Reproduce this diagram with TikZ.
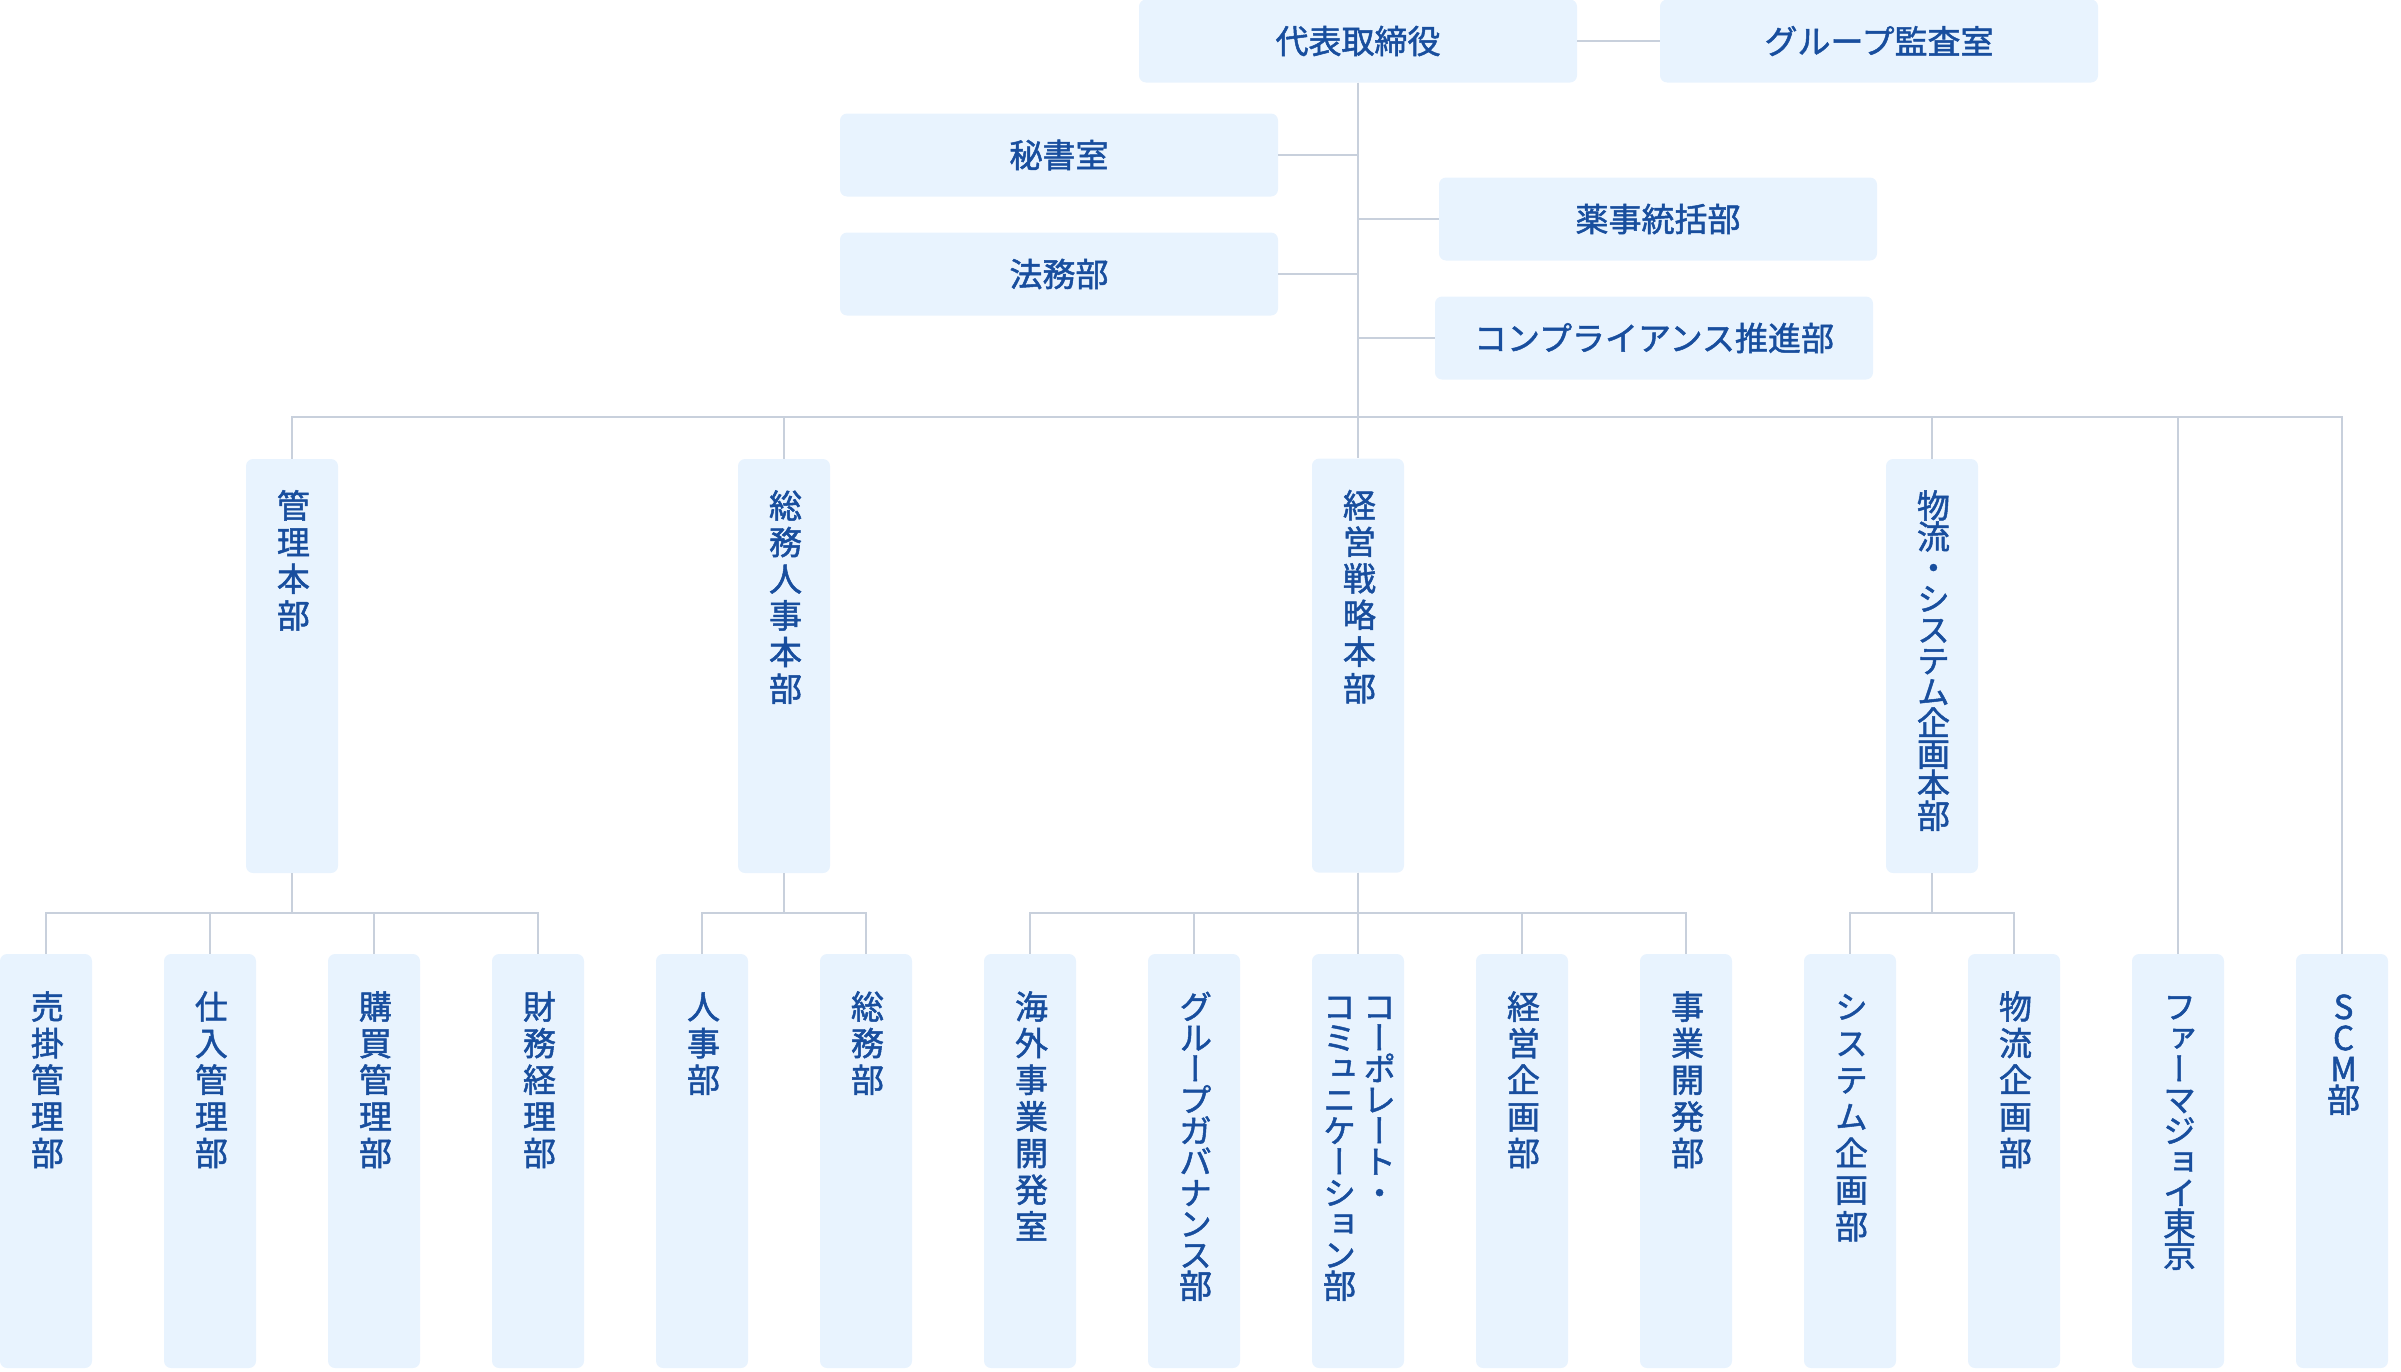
\documentclass[tikz,border=0pt]{standalone}
\usepackage{fontspec}
\usepackage{graphicx}
\usetikzlibrary{
  positioning,
  calc
}
\newfontfamily\cjk[FakeBold=1.5]{Noto Sans CJK JP}
\newfontfamily\tatefont[RawFeature={vertical;+vert},LetterSpace=11,FakeBold=1.5]{Noto Sans CJK JP}
\newfontfamily\tatetight[RawFeature={vertical;+vert},LetterSpace=-6,FakeBold=1.5]{Noto Sans CJK JP}
\definecolor{boxfill}{RGB}{232,243,254}
\definecolor{inkblue}{RGB}{24,78,158}
\definecolor{linegray}{RGB}{200,208,220}
\newcommand{\tate}[1]{\hspace*{14pt}\rotatebox{-90}{\tatefont #1}\hspace*{-14pt}}
\newcommand{\tatet}[1]{\hspace*{14pt}\rotatebox{-90}{\tatetight #1}\hspace*{-14pt}}
\newcommand{\tatepair}[2]{\hspace*{14pt}\rotatebox{-90}{\tatetight\vbox{\baselineskip=40pt\lineskiplimit=-100pt\hbox{#1}\hbox{#2}}}\hspace*{-14pt}}

\begin{document}
\begin{tikzpicture}[x=1pt, y=1pt, node distance=71.6pt,
            unit/.style={rectangle, fill=boxfill, text=inkblue, font=\cjk\fontsize{33pt}{36pt}\selectfont, minimum width=438pt, minimum height=83pt, rounded corners=7pt, inner sep=0pt},
            dept/.style={rectangle, fill=boxfill, text=inkblue, font=\fontsize{33pt}{36pt}\selectfont, minimum width=92pt, minimum height=414pt, rounded corners=7pt, inner xsep=0pt, inner ysep=36pt, text height=0pt, text depth=342pt},
            head/.style={dept, inner ysep=30pt, text depth=354pt},
            link/.style={draw=linegray, line width=2.5pt}]
            \useasboundingbox (0,0) rectangle (2401,-1371);
            % top level
            \node [unit] (ceo) at (1358,-41) {代表取締役};
            \node [unit] (audit) at (1879,-41) {グループ監査室};
            \node [unit] (secretary) at (1059,-155) {秘書室};
            \node [unit] (legal) at (1059,-274) {法務部};
            \node [unit] (pharma) at (1658,-219) {薬事統括部};
            \node [unit] (compliance) at (1654,-338) {コンプライアンス推進部};
            % departments
            \node [dept] (ar) at (46,-1161) {\tate{売掛管理部}};
            \node [dept, right=of ar] (purchase) {\tate{仕入管理部}};
            \node [dept, right=of purchase] (buying) {\tate{購買管理部}};
            \node [dept, right=of buying] (finance) {\tate{財務経理部}};
            \node [dept, right=of finance] (personnel) {\tate{人事部}};
            \node [dept, right=of personnel] (general) {\tate{総務部}};
            \node [dept, right=of general] (overseas) {\tate{海外事業開発室}};
            \node [dept, right=of overseas] (governance) {\tatet{グループガバナンス部}};
            \node [dept, right=of governance] (corpcomm) {\tatepair{コーポレート・}{コミュニケーション部}};
            \node [dept, right=of corpcomm] (planning) {\tate{経営企画部}};
            \node [dept, right=of planning] (bizdev) {\tate{事業開発部}};
            \node [dept, right=of bizdev] (sysplan) {\tate{システム企画部}};
            \node [dept, right=of sysplan] (logplan) {\tate{物流企画部}};
            \node [dept, right=of logplan] (pharmajoy) {\tatet{ファーマジョイ東京}};
            \node [dept, right=of pharmajoy] (scm) {\tatet{SCM部}};
            % divisions
            \node [head] (mgmt) at ($(purchase)!0.5!(buying)+(0,495)$) {\tate{管理本部}};
            \node [head] (hrga) at ($(personnel)!0.5!(general)+(0,495)$) {\tate{総務人事本部}};
            \node [head, above=81pt of corpcomm] (strategy) {\tate{経営戦略本部}};
            \node [head] (logsys) at ($(sysplan)!0.5!(logplan)+(0,495)$) {\tatet{物流・システム企画本部}};

            \coordinate (bus) at (1358,-417);
            \coordinate (sub) at (0,-913);
            \path [link] (ceo) -- (audit);
            \path [link] (ceo) -- (bus);
            \path [link] (secretary.east) -- (secretary.east -| ceo.south);
            \path [link] (legal.east) -- (legal.east -| ceo.south);
            \path [link] (pharma.west) -- (pharma.west -| ceo.south);
            \path [link] (compliance.west) -- (compliance.west -| ceo.south);
            \foreach \c in {mgmt, hrga, strategy, logsys, pharmajoy, scm}
              \path [link] (bus) -| (\c.north);
            \foreach \p/\c in {mgmt/ar, mgmt/purchase, mgmt/buying, mgmt/finance,
                hrga/personnel, hrga/general,
                strategy/overseas, strategy/governance, strategy/corpcomm, strategy/planning, strategy/bizdev,
                logsys/sysplan, logsys/logplan}
              \path [link] (\p.south) -- (\p.south |- sub) -| (\c.north);
        \end{tikzpicture}
\end{document}
